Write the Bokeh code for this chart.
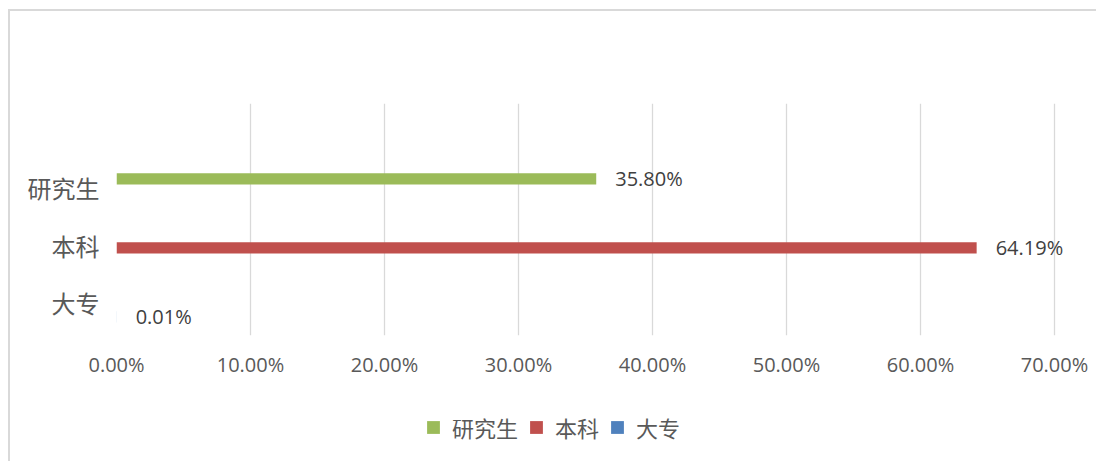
from bokeh.plotting import figure
from bokeh.layouts import column
from bokeh.models import (Range1d, FixedTicker, PrintfTickFormatter, Legend,
                          LegendItem, ColumnDataSource)
from bokeh.core.properties import value
from bokeh.embed import file_html
from bokeh.resources import INLINE

# ---- data ----
categories = ["大专", "本科", "研究生"]          # bottom to top
values = [0.01, 64.19, 35.80]                    # percent
colors = ["#4f81bd", "#c0504d", "#9bbb59"]
x_ticks = [0, 10, 20, 30, 40, 50, 60, 70]
legend_order = ["研究生", "本科", "大专"]

TEXT = "#595959"
GRID = "#d9d9d9"
NUM_FONT = "Open Sans"
CJK_FONT = "Noto Sans CJK SC"

W = 1092
H_MAIN = 380
H_LEG = 72
LEFT = 106
RIGHT = 18
X_END = 70 * (W - LEFT - RIGHT) / 938.0

p = figure(width=W, height=H_MAIN, output_backend="svg", toolbar_location=None,
           x_range=Range1d(0, X_END), y_range=Range1d(0, 3.362),
           min_border_left=LEFT, min_border_right=RIGHT, min_border_top=92,
           min_border_bottom=H_MAIN - 324)
p.outline_line_color = None
p.background_fill_color = "white"
p.border_fill_color = "white"

# bars, one renderer per series
for i, (cat, val, col) in enumerate(zip(categories, values, colors)):
    src = ColumnDataSource(dict(y=[i + 0.27], right=[val],
                                label=[f"{val:.2f}%"]))
    p.hbar(y="y", right="right", left=0, height=0.16, source=src,
           fill_color=col, line_color=None)
    p.text(x="right", y="y", text="label", source=src, x_offset=19,
           text_baseline="middle", text_align="left",
           text_font=value(NUM_FONT), text_font_size="20px", text_color="#404040")

# x axis
p.xaxis.ticker = FixedTicker(ticks=x_ticks)
p.xaxis.formatter = PrintfTickFormatter(format="%.2f%%")
p.xaxis.axis_line_color = None
p.xaxis.major_tick_line_color = None
p.xaxis.minor_tick_line_color = None
p.xaxis.major_tick_out = 0
p.xaxis.major_label_standoff = 15
p.xaxis.major_label_text_font = NUM_FONT
p.xaxis.major_label_text_font_size = "20px"
p.xaxis.major_label_text_color = TEXT

# y axis (category labels)
label_y = [round(0.478 + 0.83 * i, 3) for i in range(len(categories))]
p.yaxis.ticker = FixedTicker(ticks=label_y)
p.yaxis.major_label_overrides = {t: c for t, c in zip(label_y, categories)}
p.yaxis.axis_line_color = None
p.yaxis.major_tick_line_color = None
p.yaxis.minor_tick_line_color = None
p.yaxis.major_tick_out = 0
p.yaxis.major_label_standoff = 17
p.yaxis.major_label_text_font = CJK_FONT
p.yaxis.major_label_text_font_size = "24px"
p.yaxis.major_label_text_color = TEXT

# grid
p.xgrid.grid_line_color = GRID
p.xgrid.grid_line_width = 1.3
p.ygrid.grid_line_color = None

# legend strip (own figure so the legend is not clipped by the chart frame);
# its swatch renderers carry the series styles but have zero thickness
lg = figure(width=W, height=H_LEG, output_backend="svg", toolbar_location=None,
            x_axis_type=None, y_axis_type=None,
            x_range=Range1d(0, X_END), y_range=Range1d(-1, 3),
            min_border_left=LEFT, min_border_right=RIGHT, min_border_top=0,
            min_border_bottom=0)
lg.grid.visible = False
lg.outline_line_color = None
lg.border_fill_color = "white"
lg.background_fill_color = "white"
leg_renderers = {}
for i, (cat, val, col) in enumerate(zip(categories, values, colors)):
    leg_renderers[cat] = lg.hbar(y="y", right="right", left=0, height=0,
                                 source=ColumnDataSource(dict(y=[i], right=[val])),
                                 fill_color=col, line_color=None)
legend = Legend(items=[LegendItem(label=n, renderers=[leg_renderers[n]]) for n in legend_order],
                orientation="horizontal", location=(309, 20),
                glyph_width=16, glyph_height=16, label_standoff=11, spacing=10,
                padding=0, margin=0, label_height=24,
                label_text_font=CJK_FONT, label_text_font_size="22px",
                label_text_color=TEXT, border_line_color=None,
                background_fill_alpha=0)
lg.add_layout(legend, "center")

layout = column(p, lg, spacing=0, margin=(11, 0, 0, 10),
                styles={"box-shadow": "-2px -2px 0 0 #d9d9d9"})

open("out.html", "w").write(file_html(layout, INLINE))
